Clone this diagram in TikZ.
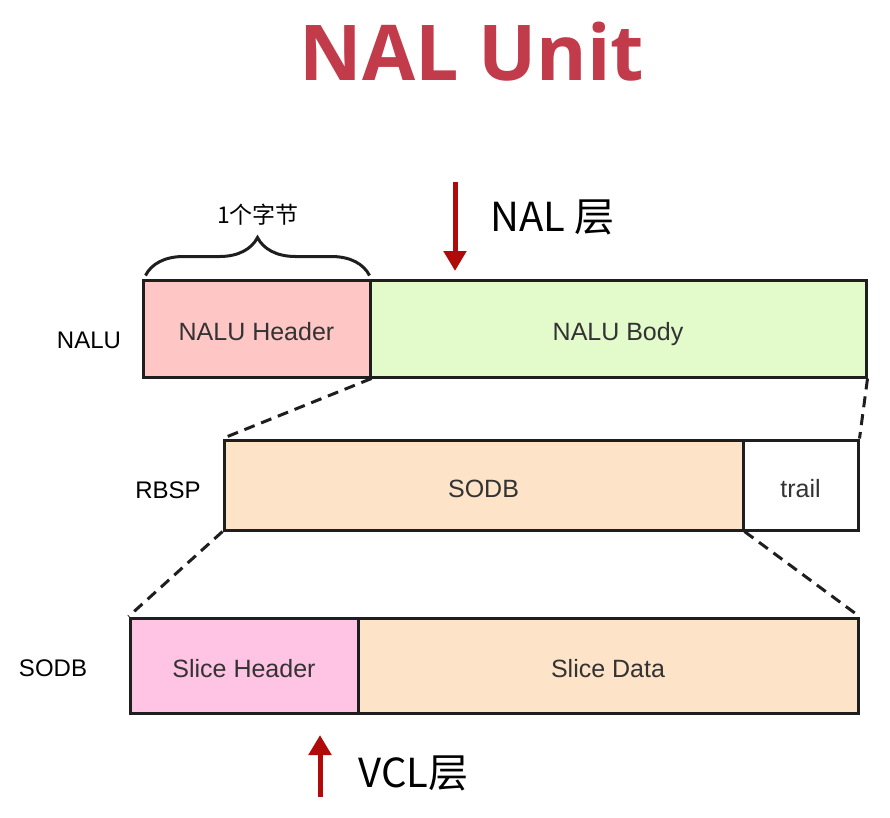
\documentclass[tikz,border=0pt]{standalone}
\usepackage{fontspec}
\usepackage{tikz}
\usetikzlibrary{arrows.meta,decorations.pathreplacing}
\setmainfont{Liberation Sans}
\newfontfamily\cjk{Noto Sans CJK SC}
\newfontfamily\titlefont{Open Sans}
\definecolor{titlered}{HTML}{C13B4A}
\definecolor{arrowred}{HTML}{B00A0A}
\definecolor{boxline}{HTML}{1E1E1E}
\definecolor{hdrpink}{HTML}{FFC6C6}
\definecolor{bodygreen}{HTML}{E3FBCA}
\definecolor{peach}{HTML}{FDE3C7}
\definecolor{slicepink}{HTML}{FFC3E3}

\begin{document}
\begin{tikzpicture}[x=1pt, y=-1pt,
    box/.style={draw=boxline, line width=3pt, inner sep=0pt, text=black!80,
      text height=24pt, text depth=0pt, font=\fontsize{25}{28}\selectfont},
    rowlabel/.style={font=\fontsize{24}{28}\selectfont},
    zoomline/.style={draw=boxline, line width=3pt, dash pattern=on 11pt off 7pt},
    layerarrow/.style={draw=arrowred, line width=5pt, -{Triangle[length=20pt,width=22pt]}},
    layertext/.style={font=\cjk\fontsize{40}{44}\selectfont, anchor=west}]
  \useasboundingbox (0,0) rectangle (890,817);

  \node[font=\titlefont\bfseries\fontsize{77}{88}\selectfont, text=titlered] (title) at (472,52) {NAL Unit};

  \node[box, fill=hdrpink, minimum width=227pt, minimum height=97pt] (hdr) at (256.5,328.5) {NALU Header};
  \node[box, fill=bodygreen, minimum width=496pt, minimum height=97pt] (body) at (618,328.5) {NALU Body};
  \node[rowlabel] (nalu) at (89,340) {NALU};

  \draw[line width=3pt, draw=boxline, decorate, decoration={brace, amplitude=38pt}]
    ([xshift=4pt,yshift=3pt]hdr.north west) -- ([xshift=-2pt,yshift=3pt]hdr.north east);
  \node[font=\cjk\fontsize{23}{26}\selectfont] (byte) at (258,215) {1个字节};

  \coordinate (naltop) at (455,182);
  \coordinate (naltip) at (455,271);
  \draw[layerarrow] (naltop) -- (naltip);
  \node[layertext] (nal) at (487,217) {NAL 层};

  \node[box, fill=peach, minimum width=519pt, minimum height=90pt] (sodb) at (483.5,485) {SODB};
  \node[box, fill=white, minimum width=115pt, minimum height=90pt] (trail) at (800.5,485) {trail};
  \node[rowlabel] (rbsp) at (168,490) {RBSP};

  \draw[zoomline] (hdr.south east) -- (sodb.north west);
  \draw[zoomline] (body.south east) -- (trail.north east);

  \node[box, fill=slicepink, minimum width=228pt, minimum height=95pt] (shdr) at (244,665.5) {Slice Header};
  \node[box, fill=peach, minimum width=500pt, minimum height=95pt] (sdata) at (608,665.5) {Slice Data};
  \node[rowlabel] (sodblabel) at (53,668) {SODB};

  \draw[zoomline] (sodb.south west) -- (shdr.north west);
  \draw[zoomline] (sodb.south east) -- (sdata.north east);

  \coordinate (vclbottom) at (320,797);
  \coordinate (vcltip) at (320,735);
  \draw[layerarrow] (vclbottom) -- (vcltip);
  \node[layertext] (vcl) at (355,773) {VCL层};
\end{tikzpicture}
\end{document}
